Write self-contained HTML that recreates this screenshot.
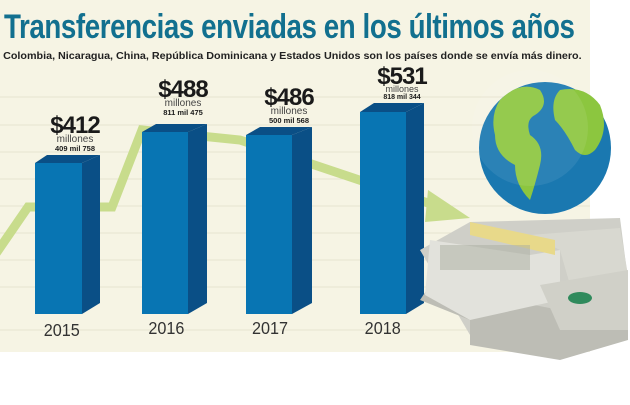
<!DOCTYPE html>
<html><head><meta charset="utf-8"><style>
body{margin:0;width:630px;height:400px;overflow:hidden;background:#fff;font-family:"Liberation Sans",sans-serif}
svg text{font-family:"Liberation Sans",sans-serif}
</style></head><body>
<svg width="630" height="400" viewBox="0 0 630 400">
<rect x="0" y="0" width="590" height="352" fill="#f6f4e4"/>
<g stroke="#e6e3cf" stroke-width="1">
<line x1="0" y1="97" x2="590" y2="97"/><line x1="0" y1="125" x2="590" y2="125"/><line x1="0" y1="152" x2="590" y2="152"/><line x1="0" y1="179" x2="590" y2="179"/><line x1="0" y1="206" x2="590" y2="206"/><line x1="0" y1="233" x2="590" y2="233"/><line x1="0" y1="260" x2="590" y2="260"/><line x1="0" y1="287" x2="590" y2="287"/><line x1="0" y1="330" x2="590" y2="330"/>
</g>
<polyline points="-5,255 28,207 112,207 142,130 240,140 440,207" fill="none" stroke="#c8dc8c" stroke-width="9"/>
<polygon points="428,190 470,218 425,222" fill="#c8dc8c"/>
<text x="5" y="38" font-size="34" font-weight="bold" fill="#12708f" transform="scale(0.815,1)" letter-spacing="-0.5">Transferencias enviadas en los últimos años</text>
<text x="3" y="59" font-size="10.5" font-weight="bold" fill="#222" transform="scale(1.025,1)">Colombia, Nicaragua, China, República Dominicana y Estados Unidos son los países donde se envía más dinero.</text>
<g>
<polygon points="35,163 47,155 100,155 82,163" fill="#0a4f86"/><rect x="35" y="163" width="47" height="151" fill="#0875b3"/><polygon points="82,163 100,155 100,303 82,314" fill="#0a4f86"/>
<polygon points="142,132 156,124 207,124 188,132" fill="#0a4f86"/><rect x="142" y="132" width="46" height="182" fill="#0875b3"/><polygon points="188,132 207,124 207,303 188,314" fill="#0a4f86"/>
<polygon points="246,135 260,127 312,127 292,135" fill="#0a4f86"/><rect x="246" y="135" width="46" height="179" fill="#0875b3"/><polygon points="292,135 312,127 312,303 292,314" fill="#0a4f86"/>
<polygon points="360,112 374,103 424,103 406,112" fill="#0a4f86"/><rect x="360" y="112" width="46" height="202" fill="#0875b3"/><polygon points="406,112 424,103 424,303 406,314" fill="#0a4f86"/>
</g>
<g fill="#333" font-size="18" text-anchor="middle">
<text x="62" y="336" transform="translate(6,0) scale(0.9,1)">2015</text>
<text x="166" y="334" transform="translate(17,0) scale(0.9,1)">2016</text>
<text x="270" y="334" transform="translate(27,0) scale(0.9,1)">2017</text>
<text x="383" y="334" transform="translate(38,0) scale(0.9,1)">2018</text>
</g>
<g fill="#1a1a1a" text-anchor="middle">
<text x="75" y="133" font-size="24" font-weight="bold" letter-spacing="-1">$412</text>
<text x="75" y="142" font-size="10" fill="#444">millones</text>
<text x="75" y="151" font-size="7.5" font-weight="bold">409 mil 758</text>
<text x="183" y="97" font-size="24" font-weight="bold" letter-spacing="-1">$488</text>
<text x="183" y="106" font-size="10" fill="#444">millones</text>
<text x="183" y="115" font-size="7.5" font-weight="bold">811 mil 475</text>
<text x="289" y="105" font-size="24" font-weight="bold" letter-spacing="-1">$486</text>
<text x="289" y="114" font-size="10" fill="#444">millones</text>
<text x="289" y="123" font-size="7.5" font-weight="bold">500 mil 568</text>
<text x="402" y="84" font-size="24" font-weight="bold" letter-spacing="-1">$531</text>
<text x="402" y="92" font-size="9" fill="#444">millones</text>
<text x="402" y="99" font-size="7" font-weight="bold">818 mil 344</text>
</g>
<g>
<polygon points="420,250 470,222 620,218 628,280 575,300 470,335" fill="#cfcfc8"/>
<polygon points="420,300 470,320 470,345 560,360 628,340 628,300 560,310 430,285" fill="#bdbdb5"/>
<polygon points="430,240 530,255 560,250 560,300 470,320 425,295" fill="#e2e2dc"/>
<polygon points="530,235 620,228 628,275 570,285 560,250" fill="#d8d8d0"/>
<polygon points="540,285 628,270 628,330 560,330" fill="#d0d0c8"/>
<polygon points="470,222 555,240 555,255 470,235" fill="#e8d98a"/>
<rect x="440" y="245" width="90" height="25" fill="#a9aea0" opacity="0.5"/>
<ellipse cx="580" cy="298" rx="12" ry="6" fill="#2f8a5c"/>
</g>
<circle cx="545" cy="148" r="66" fill="#1a78b0"/>
<path d="M500,100 q20,-20 40,-10 q10,15 -5,25 q-10,5 -5,20 q15,10 10,30 q-5,20 -10,35 q-15,-15 -15,-35 q-20,-10 -20,-30 q-5,-20 5,-35z" fill="#8cc63f"/>
<path d="M560,90 q25,-5 40,15 q10,25 -5,45 q-10,10 -20,0 q-10,-20 -20,-30 q-5,-20 5,-30z" fill="#8cc63f"/>
<circle cx="530" cy="128" r="58" fill="#fff" opacity="0.08"/>
</svg>
</body></html>
